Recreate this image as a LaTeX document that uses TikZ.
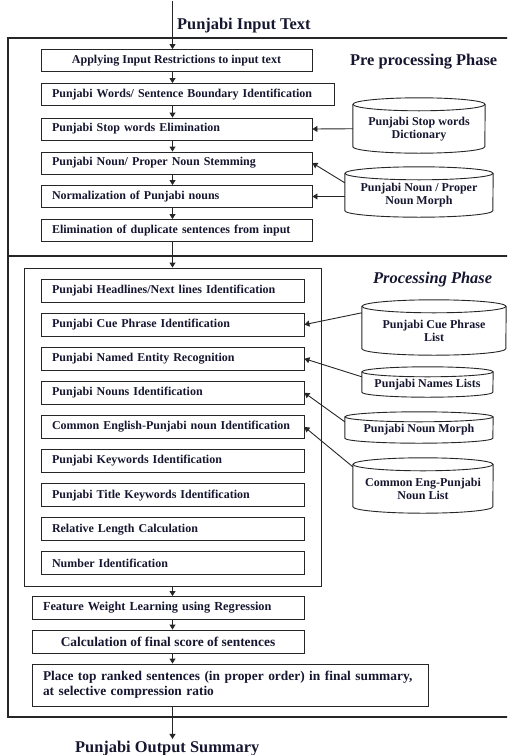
\documentclass[tikz,border=0pt]{standalone}
\usepackage{fontspec}
\setmainfont{Liberation Serif}
\usetikzlibrary{arrows.meta,calc}
\definecolor{ink}{RGB}{22,22,48}
\definecolor{edge}{RGB}{38,38,38}
\tikzset{
  line/.style={draw=edge, line width=0.9pt},
  txt/.style={font=\fontsize{12}{13}\selectfont\bfseries, text=ink},
  box/.style={line, txt, rectangle, minimum height=22pt, inner xsep=11pt, inner ysep=0pt},
  lbox/.style={box, text width=#1, align=left},
  cbox/.style={box, minimum width=#1, align=center},
  dbtxt/.style={txt, align=center, inner sep=0pt},
  arr/.style={line, -{Triangle[width=6pt,length=5pt]}},
  frame/.style={draw=edge, line width=1.2pt},
  big/.style={font=\fontsize{16.4}{19}\selectfont\bfseries, text=ink, inner sep=0pt},
}
\begin{document}
\begin{tikzpicture}[x=1pt,y=1pt]
\useasboundingbox (0,0) rectangle (507,-755);
\clip (0,0) rectangle (507,-755);
% outer frame
\draw[frame] (512,-38) -- (8,-38) -- (8,-717) -- (512,-717);
\draw[frame] (8,-256) -- (512,-256);
\coordinate (spine) at (172.5,0);
\coordinate (src) at (172.5,-1);
% labels
\node[big, anchor=base west] (intext) at (177,-29.3) {Punjabi Input Text};
\node[big, anchor=base west] (pre) at (350,-65) {Pre processing Phase};
\node[big, anchor=base west, font=\fontsize{16.4}{19}\selectfont\bfseries\itshape] (proc) at (373,-283.3) {Processing Phase};
\node[big, anchor=base west, inner sep=1.5pt] (out) at (73.5,-752) {Punjabi Output Summary};
% pre-processing boxes
\node[cbox=271pt] (b1) at (176.5,-60.5) {Applying Input Restrictions to input text};
\node[lbox=271pt] (b2) at (187.5,-94.5) {Punjabi Words/ Sentence Boundary Identification};
\node[lbox=249pt] (b3) at (176.5,-129) {Punjabi Stop words Elimination};
\node[lbox=249pt] (b4) at (176.5,-163) {Punjabi Noun/ Proper Noun Stemming};
\node[lbox=249pt] (b5) at (176.5,-196.5) {Normalization of Punjabi nouns};
\node[lbox=249pt] (b6) at (176.5,-230.5) {Elimination of duplicate sentences from input};
% processing frame and boxes
\node[line, minimum width=297pt, minimum height=318pt, inner sep=0pt] (pframe) at (172.5,-427) {};
\node[lbox=241pt, minimum height=23pt] (c1) at (172.5,-290.5) {Punjabi Headlines/Next lines Identification};
\node[lbox=241pt, minimum height=23pt] (c2) at (172.5,-324.6) {Punjabi Cue Phrase Identification};
\node[lbox=241pt, minimum height=23pt] (c3) at (172.5,-358.7) {Punjabi Named Entity Recognition};
\node[lbox=241pt, minimum height=23pt] (c4) at (172.5,-392.8) {Punjabi Nouns Identification};
\node[lbox=241pt, minimum height=23pt] (c5) at (172.5,-426.9) {\mbox{Common English-Punjabi noun Identification}};
\node[lbox=241pt, minimum height=23pt] (c6) at (172.5,-461) {Punjabi Keywords Identification};
\node[lbox=241pt, minimum height=23pt] (c7) at (172.5,-495.1) {Punjabi Title Keywords Identification};
\node[lbox=241pt, minimum height=23pt] (c8) at (172.5,-529.2) {Relative Length Calculation};
\node[lbox=241pt, minimum height=23pt] (c9) at (172.5,-563.3) {Number Identification};
% final boxes
\node[lbox=250pt, minimum height=23pt, font=\fontsize{12.3}{13}\selectfont\bfseries] (f1) at (168,-608) {Feature Weight Learning using Regression};
\node[cbox=272pt, minimum height=23pt, font=\fontsize{13.4}{14}\selectfont\bfseries] (f2) at (168,-641.5) {Calculation of final score of sentences};
\node[lbox=374pt, minimum height=42pt, font=\fontsize{13.4}{15}\selectfont\bfseries] (f3) at (230,-685) {Place top ranked sentences (in proper order) in final summary,\\at selective compression ratio};
% databases (text nodes = cylinder bodies)
\node[dbtxt, minimum width=132pt, minimum height=48.5pt] (stop) at (419,-128.75) {Punjabi Stop words\\Dictionary};
\node[dbtxt, minimum width=148pt, minimum height=43.5pt] (nmorph) at (419,-195.25) {Punjabi Noun / Proper\\Noun Morph};
\node[dbtxt, minimum width=144pt, minimum height=48.5pt] (cue) at (434,-330.75) {Punjabi Cue Phrase\\List};
\node[dbtxt, minimum width=131pt, minimum height=25pt] (names) at (427.5,-384.5) {Punjabi Names Lists};
\node[dbtxt, minimum width=148pt, minimum height=26pt] (pnmorph) at (419,-430) {Punjabi Noun Morph};
\node[dbtxt, minimum width=140pt, minimum height=48.5pt] (common) at (423,-488.75) {Common Eng-Punjabi\\Noun List};
\foreach \n/\rx/\ry in {stop/66/6.5, nmorph/74/6.5, cue/72/6.5, names/65.5/5, pnmorph/74/5, common/70/6.5}{
  \draw[line] (\n.north) ellipse [x radius=\rx pt, y radius=\ry pt];
  \draw[line] (\n.north west) -- ([yshift=\ry pt]\n.south west)
     arc[start angle=180, end angle=360, x radius=\rx pt, y radius=\ry pt]
     -- (\n.north east);
}
% main flow
\draw[arr] (src) -- (b1.north -| spine);
\draw[arr] (b1.south -| spine) -- (b2.north -| spine);
\draw[arr] (b2.south -| spine) -- (b3.north -| spine);
\draw[arr] (b3.south -| spine) -- (b4.north -| spine);
\draw[arr] (b4.south -| spine) -- (b5.north -| spine);
\draw[arr] (b5.south -| spine) -- (b6.north -| spine);
\draw[arr] (b6.south -| spine) -- (pframe.north -| spine);
\draw[arr] (pframe.south -| spine) -- (f1.north -| spine);
\draw[arr] (f1.south -| spine) -- (f2.north -| spine);
\draw[arr] (f2.south -| spine) -- (f3.north -| spine);
\draw[arr] (f3.south -| spine) -- (out.north -| spine);
% database connectors
\draw[arr] (stop.west) -- (b3.east);
\draw[arr] ([yshift=-9.5pt]nmorph.north west) -- (b4.east);
\draw[arr] (b5.east -| nmorph.west) -- (b5.east);
\draw[arr] ([yshift=-6.5pt]cue.north west) -- (c2.east);
\draw[arr] ([yshift=-5pt]names.north west) -- (c3.east);
\draw[arr] ([yshift=-5pt]pnmorph.north west) -- (c4.east);
\draw[arr] ([yshift=-2.5pt]common.north west) -- (c5.east);
\end{tikzpicture}
\end{document}
